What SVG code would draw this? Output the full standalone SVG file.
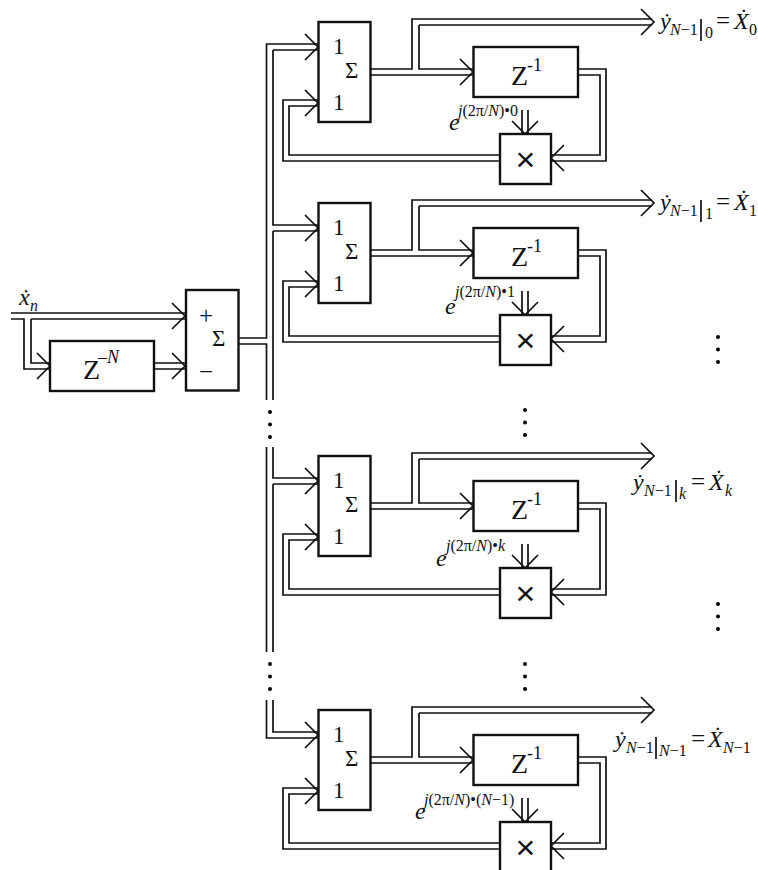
<svg xmlns="http://www.w3.org/2000/svg" xmlns:xlink="http://www.w3.org/1999/xlink" width="758" height="870" viewBox="0 0 758 870">
<style>
text{font-family:"Liberation Serif","DejaVu Serif",serif;fill:#111}
.i{font-style:italic}
.box{fill:#fff;stroke:#111;stroke-width:2.4}
.w{fill:none;stroke:#111;stroke-width:1.7}
.big{font-size:23px}
.z{font-size:28px}
.n{font-size:25px}
.v{font-size:24px}
.sup{font-size:16px}
.su1{font-size:18px}
.sub{font-size:16px}
.x{font-family:"Liberation Sans",sans-serif;font-size:34px;text-anchor:middle}
</style>
<defs>
<path id="r" class="w" d="M-13,-13L0,0L-13,13"/>
<path id="l" class="w" d="M13,-13L0,0L13,13"/>
<path id="d" class="w" d="M-13,-13L0,0L13,-13"/>
<g id="wires">
<path class="w" d="M370,69H412V19H652M370,75H473M419,25H652M419,25V69H473"/>
<path class="w" d="M578,69H606V161H551M578,75H600V155H551"/>
<path class="w" d="M500,155H289V106H318M500,161H283V100H318"/>
<path class="w" d="M522,110V134M528,110V134"/>
<use xlink:href="#r" href="#r" x="654" y="22"/>
<use xlink:href="#r" href="#r" x="473" y="72"/>
<use xlink:href="#l" href="#l" x="551" y="158"/>
<use xlink:href="#r" href="#r" x="318" y="103"/>
<use xlink:href="#d" href="#d" x="525" y="134"/>
<use xlink:href="#r" href="#r" x="318" y="47"/>
</g>
<g id="dots"><circle cx="0" cy="0" r="2"/><circle cx="0" cy="12.500" r="2"/><circle cx="0" cy="25" r="2"/></g>
<g id="sumT">
<text class="big" x="333" y="54">1</text>
<text class="big" x="345" y="78">Σ</text>
<text class="big" x="333" y="110">1</text>
</g>
<g id="zT">
<text class="z" x="511" y="85">Z</text>
<text class="su1" x="527" y="71">-1</text>
</g>
</defs>

<g id="connectors">
<path class="w" d="M11,313H185M11,319H24V369H50M31,319H185M31,319V363H50M154,363H185M154,369H185"/>
<use xlink:href="#r" href="#r" x="185" y="316"/>
<use xlink:href="#r" href="#r" x="50" y="366"/>
<use xlink:href="#r" href="#r" x="185" y="366"/>
<path class="w" d="M239,338H266.500V44H318M239,344H266.500V400M273,50H318M273,50V225H318M273,231H318M273,231V400"/>
<path class="w" d="M266.500,447V652M273,447V478H318M273,484H318M273,484V652"/>
<path class="w" d="M273,700V732H318M266.500,700V738H318"/>
<use xlink:href="#wires" href="#wires"/>
<use xlink:href="#wires" href="#wires" y="181"/>
<use xlink:href="#wires" href="#wires" y="434"/>
<use xlink:href="#wires" href="#wires" y="688"/>
</g>

<g id="input-label"><text class="v i" x="19" y="305">ẋ</text><text class="sub i" x="30" y="311">n</text></g>
<g id="delay-N"><rect class="box" x="50" y="341" width="104" height="50"/><text class="z" x="83" y="379">Z</text><text class="su1 i" x="98" y="363">–N</text></g>
<g id="comb"><rect class="box" x="186" y="290" width="52.500" height="100.500"/><text class="n" x="199" y="324">+</text><text class="big" x="212" y="346">Σ</text><text class="n" x="199" y="380">−</text></g>

<g id="bin-0">
<g id="sum-0"><rect class="box" x="318.500" y="22" width="52" height="100"/><use xlink:href="#sumT" href="#sumT"/></g>
<g id="z-0"><rect class="box" x="473.500" y="47" width="104.500" height="50"/><use xlink:href="#zT" href="#zT"/></g>
<g id="mul-0"><rect class="box" x="500" y="134" width="51" height="50"/><text class="x" x="525.500" y="171">×</text></g>
<text class="v i" x="449" y="130">e</text><text class="sup i" x="458" y="116">j<tspan font-style="normal">(2π/</tspan>N<tspan font-style="normal">)•0</tspan></text>
<g id="out-0"><text class="v i" x="660" y="29">ẏ</text><text class="sub i" x="670" y="35">N<tspan font-style="normal">−1</tspan></text><path class="w" d="M701,19V41"/><text class="sub" x="705" y="38">0</text><text class="n" x="716" y="29">=</text><text class="v i" x="734" y="29">Ẋ</text><text class="sub" x="749" y="35">0</text></g>
</g>

<g id="bin-1">
<g id="sum-1" transform="translate(0,181)"><rect class="box" x="318.500" y="22" width="52" height="100"/><use xlink:href="#sumT" href="#sumT"/></g>
<g id="z-1" transform="translate(0,181)"><rect class="box" x="473.500" y="47" width="104.500" height="50"/><use xlink:href="#zT" href="#zT"/></g>
<g id="mul-1" transform="translate(0,181)"><rect class="box" x="500" y="134" width="51" height="50"/><text class="x" x="525.500" y="171">×</text></g>
<text class="v i" x="445" y="314">e</text><text class="sup i" x="455" y="297">j<tspan font-style="normal">(2π/</tspan>N<tspan font-style="normal">)•1</tspan></text>
<g id="out-1"><text class="v i" x="660" y="210">ẏ</text><text class="sub i" x="670" y="216">N<tspan font-style="normal">−1</tspan></text><path class="w" d="M701,200V222"/><text class="sub" x="705" y="219">1</text><text class="n" x="716" y="210">=</text><text class="v i" x="734" y="210">Ẋ</text><text class="sub" x="749" y="216">1</text></g>
</g>

<g id="bin-k">
<g id="sum-k" transform="translate(0,434)"><rect class="box" x="318.500" y="22" width="52" height="100"/><use xlink:href="#sumT" href="#sumT"/></g>
<g id="z-k" transform="translate(0,434)"><rect class="box" x="473.500" y="47" width="104.500" height="50"/><use xlink:href="#zT" href="#zT"/></g>
<g id="mul-k" transform="translate(0,434)"><rect class="box" x="500" y="134" width="51" height="50"/><text class="x" x="525.500" y="171">×</text></g>
<text class="v i" x="436" y="566">e</text><text class="sup i" x="446" y="551">j<tspan font-style="normal">(2π/</tspan>N<tspan font-style="normal">)•</tspan>k</text>
<g id="out-k"><text class="v i" x="633" y="490">ẏ</text><text class="sub i" x="644" y="496">N<tspan font-style="normal">−1</tspan></text><path class="w" d="M676,480V502"/><text class="sub i" x="679" y="499">k</text><text class="n" x="691" y="490">=</text><text class="v i" x="709" y="490">Ẋ</text><text class="sub i" x="725" y="496">k</text></g>
</g>

<g id="bin-N">
<g id="sum-N" transform="translate(0,688)"><rect class="box" x="318.500" y="22" width="52" height="100"/><use xlink:href="#sumT" href="#sumT"/></g>
<g id="z-N" transform="translate(0,688)"><rect class="box" x="473.500" y="47" width="104.500" height="50"/><use xlink:href="#zT" href="#zT"/></g>
<g id="mul-N" transform="translate(0,688)"><rect class="box" x="500" y="134" width="51" height="50"/><text class="x" x="525.500" y="171">×</text></g>
<text class="v i" x="415" y="819">e</text><text class="sup i" x="424" y="805">j<tspan font-style="normal">(2π/</tspan>N<tspan font-style="normal">)•(</tspan>N<tspan font-style="normal">−1)</tspan></text>
<g id="out-N"><text class="v i" x="615" y="747">ẏ</text><text class="sub i" x="626" y="753">N<tspan font-style="normal">−1</tspan></text><path class="w" d="M656,737V759"/><text class="sub i" x="659" y="756">N<tspan font-style="normal">−1</tspan></text><text class="n" x="691" y="747">=</text><text class="v i" x="708" y="747">Ẋ</text><text class="sub i" x="723" y="753">N<tspan font-style="normal">−1</tspan></text></g>
</g>

<g id="ellipsis">
<use xlink:href="#dots" href="#dots" x="270" y="412"/>
<use xlink:href="#dots" href="#dots" x="270" y="664"/>
<use xlink:href="#dots" href="#dots" x="525" y="410"/>
<use xlink:href="#dots" href="#dots" x="525" y="664"/>
<use xlink:href="#dots" href="#dots" x="718" y="337"/>
<use xlink:href="#dots" href="#dots" x="718" y="604"/>
</g>
</svg>
